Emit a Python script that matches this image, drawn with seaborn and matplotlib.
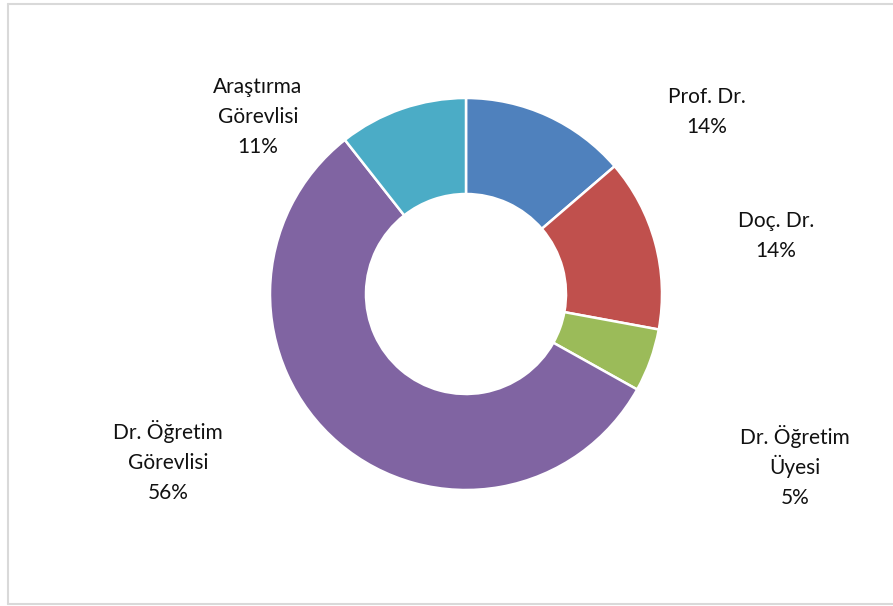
#!/usr/bin/env python3
"""
Akademik personel dağılımı - donut chart
"""
import numpy as np
import matplotlib
matplotlib.use('Agg')
import matplotlib.pyplot as plt
import seaborn as sns
from matplotlib.lines import Line2D

sns.set_style('white')
plt.rcParams['font.family'] = ['Lato', 'DejaVu Sans']

# Data
categories = ['Prof. Dr.', 'Doç. Dr.', 'Dr. Öğretim\nÜyesi', 'Dr. Öğretim\nGörevlisi', 'Araştırma\nGörevlisi']
values = [13.7, 14.2, 5.2, 56.3, 10.6]
colors = ['#4F81BD', '#C0504D', '#9BBB59', '#8064A2', '#4BACC6']

# label anchor positions in pixel space (x, y of label centre from top)
label_pos = [(707, 111), (776, 235), (795, 467), (168, 462), (258, 116)]
LINE_STEP = 30    # px between label lines
BASE_SHIFT = 7    # px from visual line centre down to baseline

W, H = 893, 606
fig = plt.figure(figsize=(W / 100, H / 100), dpi=100)
fig.patch.set_facecolor('white')
ax = fig.add_axes([0, 0, 1, 1])

center = (466, H - 294)
wedges, _ = ax.pie(values, colors=colors, startangle=90, counterclock=False,
                   radius=196, center=center,
                   wedgeprops=dict(width=96, edgecolor='white', linewidth=1.8))

total = sum(values)
for cat, v, (px, py) in zip(categories, values, label_pos):
    lines = cat.split('\n') + [f'{round(v / total * 100):.0f}%']
    top = py - LINE_STEP * (len(lines) - 1) / 2 + BASE_SHIFT
    for i, line in enumerate(lines):
        ax.text(px, H - (top + i * LINE_STEP), line, ha='center', va='baseline',
                fontsize=15, color='#111111')

ax.set_xlim(0, W)
ax.set_ylim(0, H)
ax.set_aspect('equal')
ax.axis('off')

# chart area border (light gray)
border = '#D9D9D9'
for xs, ys in [([8, W + 5], [H - 4, H - 4]), ([8, 8], [H - 4, H - 604]),
               ([8, W + 5], [H - 604, H - 604])]:
    fig.add_artist(Line2D(np.array(xs) / W, np.array(ys) / H, color=border, linewidth=1.5))

plt.savefig('out.png', dpi=100, facecolor='white')
plt.close()
